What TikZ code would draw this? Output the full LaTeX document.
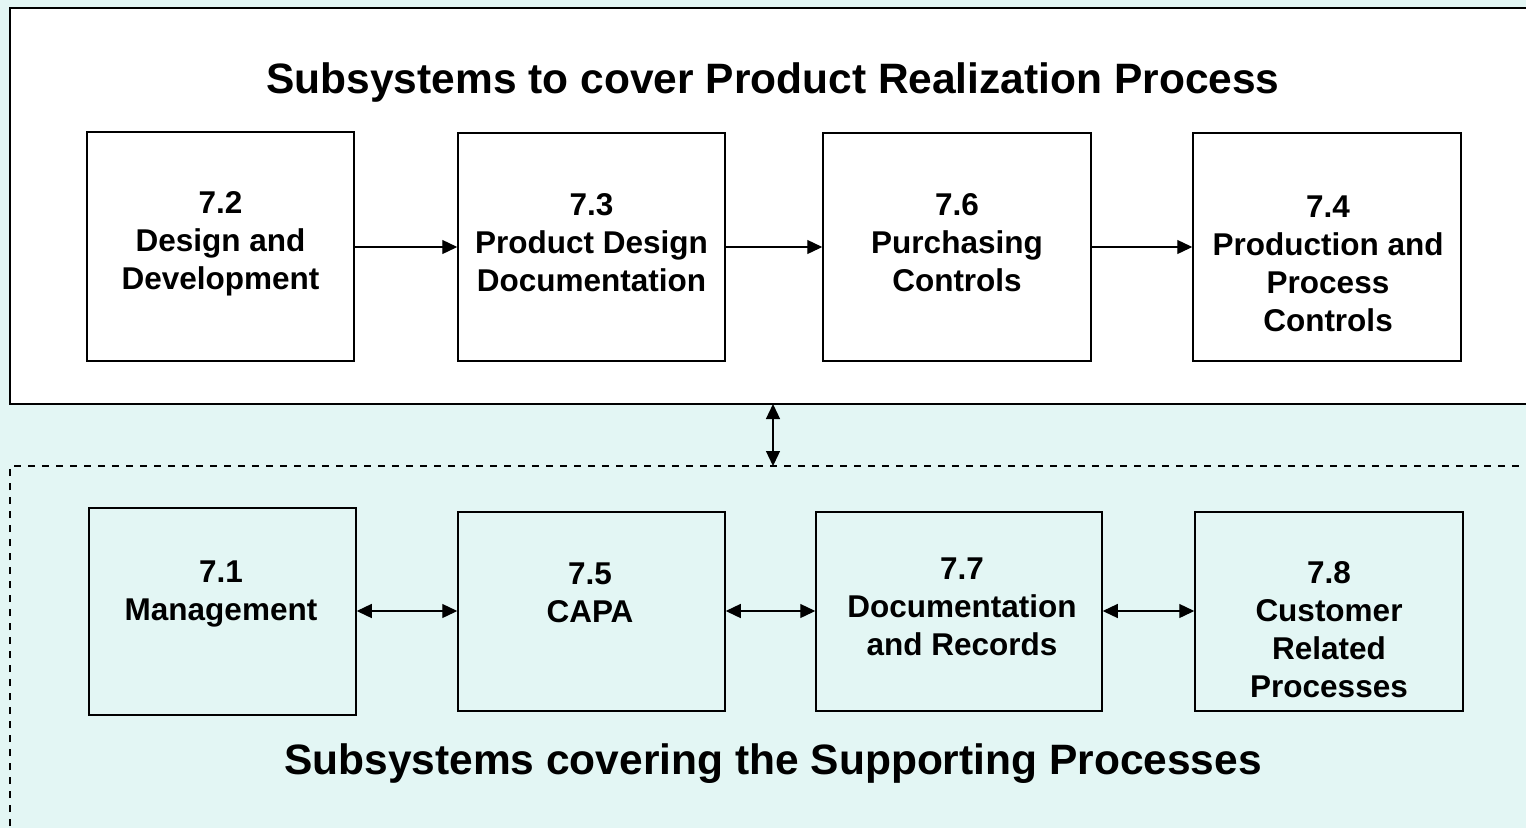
\documentclass[tikz,border=0pt]{standalone}
\usepackage{fontspec}
\setmainfont{Liberation Sans}
\usetikzlibrary{arrows.meta}
\definecolor{bgcyan}{HTML}{E3F6F4}
\tikzset{
  box/.style={draw=black, line width=1.5pt, inner sep=0pt},
  boxtext/.style={inner sep=0pt, align=center,
    font=\fontsize{31.5}{38}\selectfont\bfseries},
  title/.style={font=\fontsize{42.5}{50}\selectfont\bfseries, inner sep=0pt},
  conn/.style={line width=1.3pt, -{Triangle[length=15pt,width=14pt]}},
  bconn/.style={line width=1.3pt, {Triangle[length=15pt,width=14pt]}-{Triangle[length=15pt,width=14pt]}},
}
\begin{document}
\begin{tikzpicture}[x=1pt,y=-1pt]
\useasboundingbox (0,0) rectangle (1526,828);
\fill[bgcyan] (0,0) rectangle (1526,828);
\begin{scope}
\clip (0,0) rectangle (1526,828);
\draw[line width=1.5pt, fill=white] (10,8) rectangle (1540,404);
\draw[line width=1.3pt, dashed, dash pattern=on 7pt off 7pt] (10,840) -- (10,466) -- (1540,466);
\end{scope}
\node[title] (t1) at (773,83) {Subsystems to cover Product Realization Process};
\node[title] (t2) at (773,764) {Subsystems covering the Supporting Processes};

\node[box, fill=white, minimum width=267pt, minimum height=229pt] (b1) at (220.5,246.5) {};
\node[box, fill=white, minimum width=267pt, minimum height=228pt] (b2) at (591.5,247) {};
\node[box, fill=white, minimum width=268pt, minimum height=228pt] (b3) at (957,247) {};
\node[box, fill=white, minimum width=268pt, minimum height=228pt] (b4) at (1327,247) {};
\node[boxtext] (b1t) at (220.5,243.5) {7.2\\Design and\\Development};
\node[boxtext] (b2t) at (591.5,243) {7.3\\Product Design\\Documentation};
\node[boxtext] (b3t) at (957,243) {7.6\\Purchasing\\Controls};
\node[boxtext] (b4t) at (1328,263.5) {7.4\\Production and\\Process\\Controls};

\node[box, minimum width=267pt, minimum height=207pt] (b5) at (222.5,611.5) {};
\node[box, minimum width=267pt, minimum height=199pt] (b6) at (591.5,611.5) {};
\node[box, minimum width=286pt, minimum height=199pt] (b7) at (959,611.5) {};
\node[box, minimum width=268pt, minimum height=199pt] (b8) at (1329,611.5) {};
\node[boxtext] (b5t) at (221,594) {7.1\\Management};
\node[boxtext] (b6t) at (590,593) {7.5\\CAPA};
\node[boxtext] (b7t) at (962,607) {7.7\\Documentation\\and Records};
\node[boxtext] (b8t) at (1329,629.5) {7.8\\Customer\\Related\\Processes};

\draw[conn] (b1.east |- 0,247) -- (b2.west |- 0,247);
\draw[conn] (b2.east |- 0,247) -- (b3.west |- 0,247);
\draw[conn] (b3.east |- 0,247) -- (b4.west |- 0,247);

\draw[bconn] (b5.east |- 0,611) -- (b6.west |- 0,611);
\draw[bconn] (b6.east |- 0,611) -- (b7.west |- 0,611);
\draw[bconn] (b7.east |- 0,611) -- (b8.west |- 0,611);

\coordinate (ua) at (773,404);
\coordinate (la) at (773,466);
\draw[bconn] (ua) -- (la);
\end{tikzpicture}
\end{document}
